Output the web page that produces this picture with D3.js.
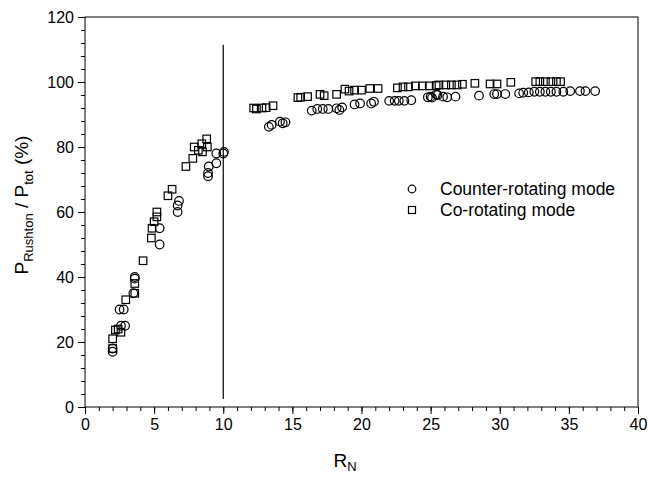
<!DOCTYPE html>
<html><head><meta charset="utf-8">
<script src="https://cdn.jsdelivr.net/npm/d3@7"></script>
<style>body{margin:0;background:#fff}text{font-family:Arial,"Liberation Sans",sans-serif}</style>
</head><body><svg id="c" width="649" height="477"></svg>
<script>
const counterX = [2.0,2.0,2.6,2.9,2.5,2.8,3.5,3.6,3.6,5.4,5.4,6.7,6.7,6.8,8.9,8.9,8.95,9.5,9.5,10.0,10.05,
 13.3,13.5,14.1,14.3,14.5,16.4,16.8,17.2,17.6,18.2,18.4,18.6,19.5,19.9,20.7,20.9,22.0,22.4,22.7,23.1,23.6,24.8,25.0,25.4,
 25.1,25.5,25.9,26.2,26.8,28.5,29.6,29.8,30.4,31.4,31.7,32.1,32.5,32.9,33.3,33.7,34.1,34.6,35.1,35.8,36.2,36.9];
const counterY = [17,18,25,25,30,30,35,39.5,40,50,55,60,62,63.4,71,72,74,75,78,78,78.5,
 86.2,86.8,87.8,87.3,87.6,91.2,91.7,91.7,91.7,91.9,91.4,92.2,93.1,93.4,93.4,93.9,94.2,94.2,94.2,94.2,94.4,95.3,95.5,96.2,
 95.2,96.0,95.5,95.3,95.5,95.8,96.3,96.3,96.3,96.5,96.7,96.8,97.0,97.0,97.0,97.0,97.0,97.0,97.2,97.2,97.2,97.2];
const coX = [2.0,2.0,2.2,2.4,2.6,2.95,3.6,3.6,4.2,4.8,4.85,5.0,5.2,5.2,6.0,6.3,7.3,7.8,7.9,8.2,8.45,8.5,8.8,8.85,
 12.2,12.4,12.8,13.1,13.6,15.4,15.6,16.1,17.0,17.3,18.2,18.8,19.1,19.5,20.0,20.6,21.2,22.6,23.0,23.4,23.9,24.4,24.9,25.4,
 25.6,26.1,26.5,26.9,27.3,28.2,29.3,29.8,30.8,32.6,32.9,33.3,33.7,34.1,34.4];
const coY = [18,21,23.7,24,23,33,35,38,45,52,55,57,58.5,60,65,67,74,76.5,80,79,81,78.5,82.5,80,
 92.0,91.7,92.0,92.1,92.7,95.2,95.3,95.5,96.2,95.8,96.2,97.8,97.2,97.5,97.5,98.0,98.0,98.2,98.5,98.5,98.8,98.8,98.8,98.9,
 99.1,99.1,99.1,99.1,99.3,99.6,99.4,99.4,99.9,100.1,100.1,100.1,100.1,100.1,100.1];
const xTicks = [0,5,10,15,20,25,30,35,40];
const yTicks = [0,20,40,60,80,100,120];
const legendLabels = ["Counter-rotating mode","Co-rotating mode"];
const refLineX = 10, refLineY = [2.5,111.5];

const svg = d3.select("#c");
const L=85,R=638,T=17,B=407;
const x = d3.scaleLinear().domain([0,40]).range([L,R]);
const y = d3.scaleLinear().domain([0,120]).range([B,T]);

// frame
svg.append("rect").attr("x",L).attr("y",T).attr("width",R-L).attr("height",B-T)
  .attr("fill","none").attr("stroke","#000").attr("stroke-width",1);

// x axis
const xa = svg.append("g").attr("transform",`translate(0,${B})`)
  .call(d3.axisBottom(x).tickValues(d3.range(0,41,1)).tickSize(4).tickFormat(""));
xa.call(g=>g.select(".domain").remove());
const xm = svg.append("g").attr("transform",`translate(0,${B})`)
  .call(d3.axisBottom(x).tickValues(xTicks).tickSize(7).tickPadding(5).tickFormat(d3.format("d")));
xm.select(".domain").remove();
xm.selectAll("text").attr("font-size",16).attr("fill","#000");

// y axis
const ya = svg.append("g").attr("transform",`translate(${L},0)`)
  .call(d3.axisLeft(y).tickValues(d3.range(0,121,4)).tickSize(4).tickFormat(""));
ya.select(".domain").remove();
const ym = svg.append("g").attr("transform",`translate(${L},0)`)
  .call(d3.axisLeft(y).tickValues(yTicks).tickSize(7).tickPadding(4).tickFormat(d3.format("d")));
ym.select(".domain").remove();
ym.selectAll("text").attr("font-size",16).attr("fill","#000");
svg.selectAll(".tick line").attr("stroke","#000");

// reference vertical line
svg.append("line").attr("x1",x(refLineX)).attr("x2",x(refLineX))
  .attr("y1",y(refLineY[0])).attr("y2",y(refLineY[1])).attr("stroke","#000").attr("stroke-width",1.2);

// markers
const cData = counterX.map((v,i)=>[v,counterY[i]]);
const sData = coX.map((v,i)=>[v,coY[i]]);
svg.append("g").selectAll("circle").data(cData).join("circle")
  .attr("cx",d=>x(d[0])).attr("cy",d=>y(d[1])).attr("r",4.3)
  .attr("fill","none").attr("stroke","#000").attr("stroke-width",1.2);
const s=7.5;
svg.append("g").selectAll("rect").data(sData).join("rect")
  .attr("x",d=>x(d[0])-s/2).attr("y",d=>y(d[1])-s/2).attr("width",s).attr("height",s)
  .attr("fill","none").attr("stroke","#000").attr("stroke-width",1.2);

// legend
const lg = svg.append("g");
lg.append("circle").attr("cx",412).attr("cy",189).attr("r",3.8).attr("fill","none").attr("stroke","#000").attr("stroke-width",1.2);
lg.append("rect").attr("x",408.5).attr("y",206.5).attr("width",7).attr("height",7).attr("fill","none").attr("stroke","#000").attr("stroke-width",1.2);
lg.append("text").attr("x",440).attr("y",195).attr("font-size",17.5).text(legendLabels[0]);
lg.append("text").attr("x",440).attr("y",216).attr("font-size",17.5).text(legendLabels[1]);

// axis titles
const xt = svg.append("text").attr("x",345).attr("y",467).attr("text-anchor","middle").attr("font-size",19);
xt.append("tspan").text("R");
xt.append("tspan").attr("font-size",13).attr("dy",4).text("N");

const yt = svg.append("text").attr("transform","translate(28,205) rotate(-90)").attr("text-anchor","middle").attr("font-size",19);
yt.append("tspan").text("P");
yt.append("tspan").attr("font-size",13).attr("dy",5).text("Rushton");
yt.append("tspan").attr("dy",-5).text(" / P");
yt.append("tspan").attr("font-size",13).attr("dy",5).text("tot");
yt.append("tspan").attr("dy",-5).text(" (%)");
</script></body></html>
